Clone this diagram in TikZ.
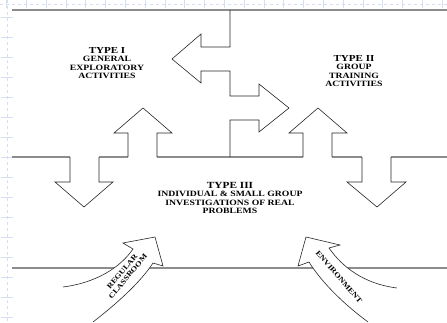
\documentclass[tikz,border=0pt]{standalone}
\usepackage{fontspec}
\setmainfont{Liberation Serif}
\newfontfamily\lblfont[FakeStretch=1.2]{Liberation Serif Bold}
\newcommand\typesz{\fontsize{9.2}{9.5}\selectfont}
\definecolor{gridc}{RGB}{214,222,242}
\definecolor{linec}{RGB}{140,140,140}
\begin{document}
\begin{tikzpicture}[x=1pt,y=-1pt,
  bgline/.style={draw=linec,line width=1.3pt},
  outl/.style={draw=black!85,line width=0.6pt,line join=miter},
  sub/.style={inner sep=0pt,align=center,font=\lblfont\fontsize{8.1}{8.3}\selectfont},
  gridl/.style={draw=gridc,line width=0.5pt}]
\useasboundingbox (0,0) rectangle (447,322);
% faint background grid
\foreach \i in {0,...,22} {\draw[gridl] (6.5+19.8*\i,0) -- (6.5+19.8*\i,8);}
\draw[gridl,dashed] (0,4) -- (447,4);
\draw[gridl,dashed] (7,0) -- (7,322);
\foreach \j in {0,...,15} {\draw[gridl] (1,17+20*\j) -- (13,17+20*\j);}
% horizontal lines
\draw[bgline] (12,10) -- (447,10);
\draw[bgline] (12,268) -- (447,268);
\draw[bgline] (12,157) -- (70,157) (99,157) -- (128,157) (157,157) -- (303,157)
  (332,157) -- (362,157) (391,157) -- (447,157);
% central double arrow
\draw[outl] (230,10) -- (230,47) -- (201,47) -- (201,34) -- (172,59) -- (201,83) -- (201,71)
  -- (230,71) -- (230,96) -- (259,96) -- (259,84) -- (289,108) -- (259,132) -- (259,120)
  -- (230,120) -- (230,157);
% down arrow left
\draw[outl] (70,157) -- (70,182) -- (55,182) -- (84,207) -- (113,182) -- (99,182) -- (99,157);
% up arrow 1
\draw[outl] (128,157) -- (128,133) -- (114,133) -- (143,108) -- (172,133) -- (157,133) -- (157,157);
% up arrow 2
\draw[outl] (303,157) -- (303,133) -- (289,133) -- (318,108) -- (347,133) -- (332,133) -- (332,157);
% down arrow right
\draw[outl] (362,157) -- (362,182) -- (347,182) -- (377,207) -- (406,182) -- (391,182) -- (391,157);
% curved arrows
\path[outl,fill=white] (63,287) .. controls (95,283) and (120,268) .. (133,249)
  -- (123,243) -- (155,237) -- (163,266) -- (153,263)
  .. controls (140,283) and (115,305) .. (93,322);
\path[outl,fill=white] (397,288) .. controls (365,284) and (343,268) .. (329,248)
  -- (340,245) -- (306,237) -- (298,266) -- (309,262)
  .. controls (322,283) and (345,305) .. (368,322);
% texts
\node[sub] (t1) at (107,63) {{\typesz TYPE I}\\GENERAL\\EXPLORATORY\\ACTIVITIES};
\node[sub] (t2) at (354,71) {{\typesz TYPE II}\\GROUP\\TRAINING\\ACTIVITIES};
\node[sub] (t3) at (230,198) {{\fontsize{9.4}{10.5}\selectfont TYPE III}\\INDIVIDUAL \& SMALL GROUP\\INVESTIGATIONS OF REAL\\PROBLEMS};
\node[sub,rotate=50,font=\lblfont\fontsize{7.2}{7.6}\selectfont] (rc) at (125,274) {REGULAR\\CLASSROOM};
\node[sub,rotate=-49,font=\lblfont\fontsize{7.2}{7.6}\selectfont] (env) at (339,277) {ENVIRONMENT};
\end{tikzpicture}
\end{document}
